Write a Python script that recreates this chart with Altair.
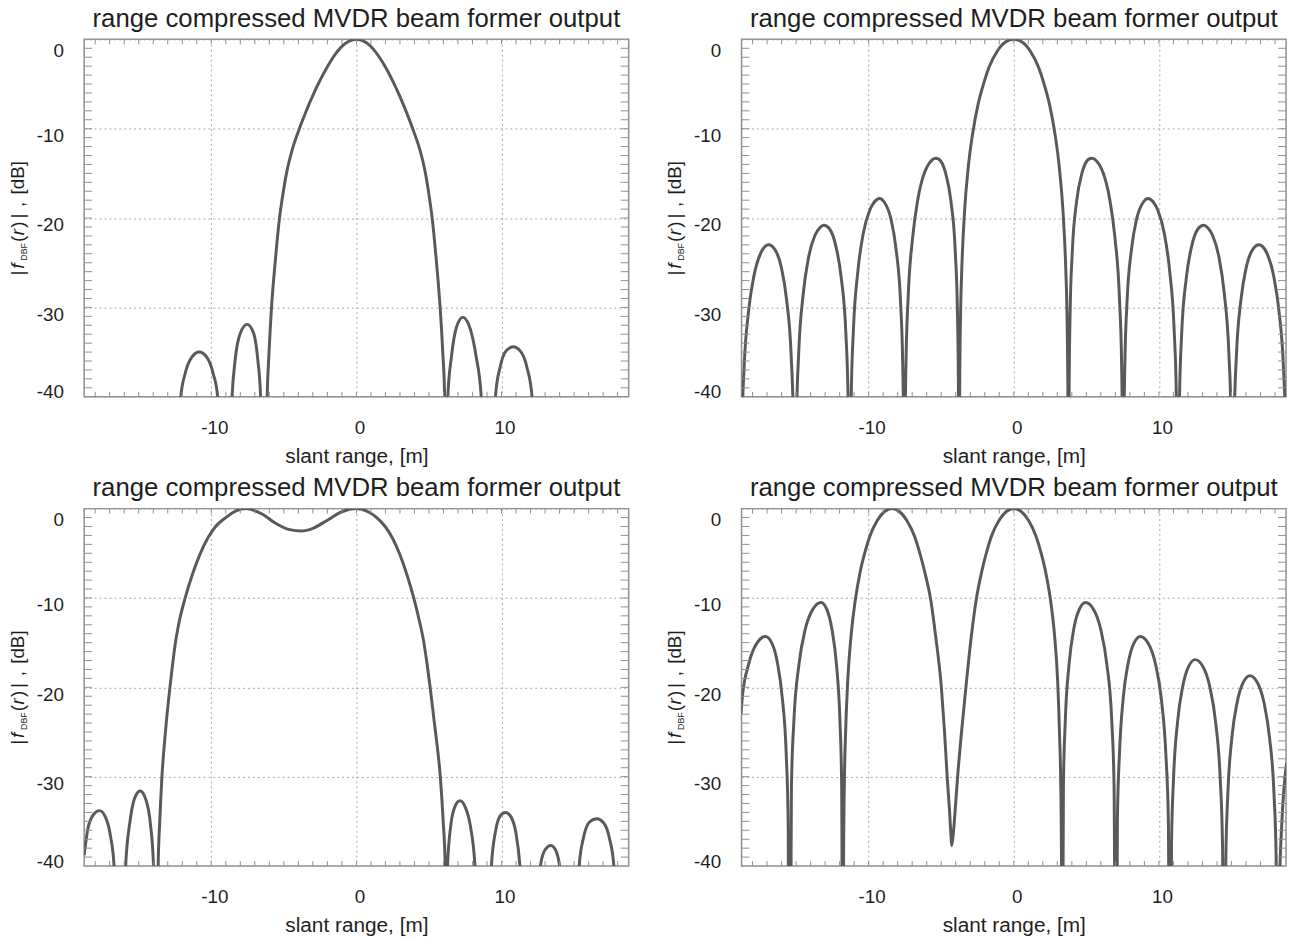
import altair as alt
import pandas as pd

TITLE = "range compressed MVDR beam former output"
X_TITLE = "slant range, [m]"
X_LABELS = [-10, 0, 10]
Y_LABELS = [0, -10, -20, -30, -40]
X_DOMAIN = [-18.76, 18.76]
Y_DOMAIN = [-40, 0]
X_MINOR = list(range(-18, 19))
Y_MINOR = list(range(-39, 0))

# top-left panel
R_TL = [-12.5, -12.1, -11.8, -11.35, -10.83, -10.3, -9.87, -9.56, -9.05,
        -8.57, -8.35, -8.0, -7.53, -7.08, -6.8, -6.6, -6.4,
        -6.15, -6.02, -5.85, -5.6, -5.3, -5.08, -4.82, -4.45, -4.0, -3.5, -3.0, -2.5, -2.0, -1.6, -1.0, -0.5, 0.0,
        0.5, 1.0, 1.58, 2.0, 2.48, 2.97, 3.46, 3.95, 4.4, 4.76, 5.01, 5.22, 5.52, 5.77, 5.95, 6.08, 6.2,
        6.3, 6.55, 6.9, 7.33, 7.8, 8.25, 8.6, 9.1,
        9.58, 9.9, 10.3, 10.8, 11.3, 11.75, 12.1, 12.5]
DB_TL = [-70, -40, -37.4, -35.6, -35.0, -35.6, -37.4, -40, -70,
         -40, -35.8, -32.9, -31.9, -32.9, -35.8, -40, -70,
         -40, -35, -30, -25, -20, -17.5, -15, -12.5, -10.3, -8.18, -6.27, -4.57, -3.06, -2.0, -0.78, -0.2, 0,
         -0.2, -0.8, -2.0, -3.1, -4.6, -6.3, -8.2, -10.3, -12.5, -15, -17.5, -20, -25, -30, -35, -40, -70,
         -40, -35.5, -32.2, -31.1, -32.2, -35.5, -40, -70,
         -40, -36.7, -34.9, -34.4, -34.9, -36.7, -40, -70]

# top-right panel
R_TR = [-18.85, -18.81, -18.74, -18.59, -18.28, -17.91, -17.46, -17.15, -16.89, -16.47, -16.02, -15.65, -15.34, -15.19, -15.12, -15.08,
        -15.04, -14.97, -14.82, -14.51, -14.14, -13.69, -13.38, -13.08, -12.70, -12.25, -11.88, -11.57, -11.42, -11.35, -11.31,
        -11.27, -11.20, -11.05, -10.74, -10.37, -9.92, -9.61, -9.24, -8.93, -8.48, -8.11, -7.80, -7.65, -7.58, -7.54,
        -7.50, -7.43, -7.28, -6.97, -6.60, -6.15, -5.84, -5.39, -5.17, -4.71, -4.34, -4.03, -3.88, -3.81, -3.77,
        -3.73, -3.66, -3.58, -3.39, -3.13, -2.83, -2.45, -2.07, -1.70, -1.13, -0.57, 0.0,
        0.57, 1.13, 1.70, 2.07, 2.45, 2.83, 3.13, 3.39, 3.58, 3.66, 3.73, 3.77,
        3.81, 3.88, 4.03, 4.34, 4.71, 5.17, 5.39, 5.84, 6.15, 6.60, 6.97, 7.28, 7.43, 7.50, 7.54,
        7.58, 7.65, 7.80, 8.11, 8.48, 8.93, 9.24, 9.61, 9.92, 10.37, 10.74, 11.05, 11.20, 11.27, 11.31,
        11.35, 11.42, 11.57, 11.88, 12.25, 12.70, 13.08, 13.38, 13.69, 14.14, 14.51, 14.82, 14.97, 15.04, 15.08,
        15.12, 15.19, 15.34, 15.65, 16.02, 16.47, 16.89, 17.15, 17.46, 17.91, 18.28, 18.59, 18.74, 18.81, 18.85]
DB_TR = [-70, -54.0, -44.4, -37.0, -30.5, -26.5, -24.0, -23.2, -23.0, -23.5, -25.5, -29.2, -35.4, -42.6, -52.1, -70,
         -52.0, -42.5, -35.1, -28.5, -24.4, -21.9, -21.1, -20.8, -21.2, -23.2, -26.8, -32.9, -40.1, -49.6, -70,
         -49.5, -39.9, -32.5, -25.9, -21.7, -19.1, -18.2, -17.8, -18.2, -20.0, -23.5, -29.5, -36.6, -46.1, -70,
         -46.0, -36.4, -28.9, -22.2, -17.8, -14.9, -13.9, -13.3, -13.4, -14.9, -18.0, -23.8, -30.7, -40.1, -70,
         -39.9, -30.2, -25.6, -19.2, -14.2, -10.5, -7.2, -4.9, -3.1, -1.3, -0.3, 0,
         -0.3, -1.3, -3.1, -4.9, -7.2, -10.5, -14.2, -19.2, -25.6, -30.2, -39.9, -70,
         -40.1, -30.7, -23.8, -18.0, -14.9, -13.4, -13.3, -13.9, -14.9, -17.8, -22.2, -28.9, -36.4, -46.0, -70,
         -46.1, -36.6, -29.5, -23.5, -20.0, -18.2, -17.8, -18.2, -19.1, -21.7, -25.9, -32.5, -39.9, -49.5, -70,
         -49.6, -40.1, -32.9, -26.8, -23.2, -21.2, -20.8, -21.1, -21.9, -24.4, -28.5, -35.1, -42.5, -52.0, -70,
         -52.1, -42.6, -35.4, -29.2, -25.5, -23.5, -23.0, -23.2, -24.0, -26.5, -30.5, -37.0, -44.4, -54.0, -70]

# bottom-left panel
R_BL = [-18.76, -18.5, -18.1, -17.7, -17.3, -16.95, -16.7, -16.3,
        -15.9, -15.6, -15.3, -14.9, -14.5, -14.2, -13.98, -13.82,
        -13.66, -13.55, -13.4, -13.16, -12.85, -12.67, -12.47, -12.19, -11.8, -11.29, -10.79, -10.19, -9.7, -9.0, -8.29, -7.59,
        -6.5, -5.6, -4.6, -3.79, -3.0, -2.0, -1.0, 0.0,
        0.8, 1.4, 1.98, 2.5, 3.0, 3.5, 3.95, 4.33, 4.65, 4.88, 5.08, 5.45, 5.78, 5.98, 6.12, 6.2,
        6.28, 6.5, 6.8, 7.13, 7.5, 7.85, 8.17, 8.75,
        9.3, 9.6, 9.9, 10.28, 10.65, 10.98, 11.27, 12.0,
        12.68, 12.9, 13.15, 13.38, 13.6, 13.82, 14.0, 14.7,
        15.35, 15.65, 16.05, 16.56, 17.05, 17.45, 17.74, 18.2]
DB_BL = [-38.8, -35.8, -34.2, -33.8, -34.5, -36.6, -40, -70,
         -40, -35, -32.5, -31.6, -32.6, -35.2, -40, -70,
         -40, -35, -30, -25, -20, -17.5, -15, -12.5, -10, -7.32, -5.15, -3.15, -2, -1, -0.25, 0,
         -0.6, -1.6, -2.35, -2.5, -2.2, -1.3, -0.35, 0,
         -0.35, -1.0, -2, -3.34, -5.16, -7.48, -10, -12.5, -15, -17.5, -20, -25, -30, -35, -40, -70,
         -40, -35.5, -33.3, -32.7, -33.4, -35.5, -40, -70,
         -40, -36, -34.4, -34.0, -34.5, -36.2, -40, -70,
         -40, -38.5, -37.9, -37.7, -37.9, -38.6, -40, -70,
         -40, -36.8, -35.1, -34.7, -35.2, -37.0, -40, -70]

# bottom-right panel
R_BR = [-18.8, -18.71, -18.25, -17.7, -17.1, -16.67, -16.28, -15.95, -15.68, -15.55, -15.45,
        -15.32, -15.15, -14.80, -14.37, -13.84, -13.28, -12.89, -12.53, -12.22, -11.98, -11.86, -11.77,
        -11.73, -11.67, -11.6, -11.44, -11.21, -10.94, -10.6, -10.26, -9.92, -9.41, -8.9, -8.39,
        -7.88, -7.37, -6.84, -6.49, -6.12, -5.71, -5.39, -4.99, -4.77, -4.59, -4.42, -4.33, -4.28,
        -4.18, -4.05, -3.87, -3.6, -3.3, -2.92, -2.6, -2.23, -1.88, -1.54, -1.02, -0.51, 0.0,
        0.51, 1.02, 1.53, 1.87, 2.21, 2.55, 2.81, 3.02, 3.16, 3.23, 3.29, 3.32,
        3.42, 3.55, 3.81, 4.13, 4.52, 4.94, 5.49, 5.99, 6.41, 6.75, 6.91, 7.04,
        7.14, 7.28, 7.54, 7.88, 8.28, 8.72, 9.25, 9.75, 10.16, 10.48, 10.65, 10.77,
        10.87, 11.01, 11.29, 11.64, 12.05, 12.5, 13.02, 13.5, 13.9, 14.22, 14.38, 14.5,
        14.61, 14.75, 15.03, 15.39, 15.81, 16.27, 16.78, 17.24, 17.62, 17.93, 18.08, 18.2,
        18.31, 18.47, 18.8]
DB_BR = [-23.0, -21.2, -17.3, -15.05, -14.3, -15.05, -17.3, -21.2, -27.5, -34.8, -70,
         -31.0, -23.7, -17.4, -13.5, -11.25, -10.5, -11.25, -13.5, -17.4, -23.7, -31.0, -70,
         -39.9, -30.2, -25.6, -19.2, -14.2, -10.45, -7.2, -4.9, -3.1, -1.33, -0.32, 0,
         -0.32, -1.33, -3.1, -4.9, -7.2, -10.3, -14.2, -20, -25, -30, -34, -36.6, -37.7,
         -36.6, -34, -30, -25, -20, -14.2, -10.3, -7.2, -4.9, -3.1, -1.33, -0.32, 0,
         -0.32, -1.33, -3.1, -4.9, -7.2, -10.45, -14.2, -19.2, -25.6, -30.2, -39.9, -70,
         -31.0, -23.7, -17.4, -13.5, -11.25, -10.5, -11.25, -13.5, -17.4, -23.7, -31.0, -70,
         -34.8, -27.5, -21.2, -17.3, -15.05, -14.3, -15.05, -17.3, -21.2, -27.5, -34.8, -70,
         -37.4, -30.1, -23.8, -19.9, -17.65, -16.9, -17.65, -19.9, -23.8, -30.1, -37.4, -70,
         -39.2, -31.9, -25.6, -21.7, -19.45, -18.7, -19.45, -21.7, -25.6, -31.9, -39.2, -70,
         -42.5, -35.2, -28.5]

W, H = 550, 361
FONT = "Liberation Sans"
LINE = "#595959"
FRAME = "#8f8f8f"
GRID = "#a8a8a8"
TXT = "#1e1e1e"

# y-axis title pieces: (text, size, style, baseline shift, advance in em of YT_SIZE)
YT_SIZE = 19
YT_PIECES = [
    ("|", YT_SIZE, "normal", 0, 0.36),
    ("f", YT_SIZE, "italic", 0, 0.42),
    ("DBF", 9, "normal", 3, 1.0),
    ("(", YT_SIZE, "normal", 0, 0.36),
    ("r", YT_SIZE, "italic", 0, 0.40),
    (")", YT_SIZE, "normal", 0, 0.48),
    ("|", YT_SIZE, "normal", 0, 0.62),
    (",", YT_SIZE, "normal", 0, 0.66),
    ("[dB]", YT_SIZE, "normal", 0, 1.8),
]


def ytitle_layers():
    total = sum(p[4] for p in YT_PIECES) * YT_SIZE
    y = H / 2 + total / 2
    xb = -61
    layers = []
    for text, size, style, shift, adv in YT_PIECES:
        layers.append(
            alt.Chart(pd.DataFrame({"t": [text]}))
            .mark_text(angle=270, align="left", baseline="alphabetic", font=FONT,
                       fontSize=size, fontStyle=style, color=TXT)
            .encode(x=alt.value(xb + shift), y=alt.value(y), text="t:N")
        )
        y -= adv * YT_SIZE
    return layers


def panel(r, db):
    xs = alt.Scale(domain=X_DOMAIN, nice=False, zero=False)
    ys = alt.Scale(domain=Y_DOMAIN, nice=False, zero=False)
    x_axis = alt.Axis(values=X_LABELS, labelExpr="'' + datum.value", title=X_TITLE, grid=True,
                      gridColor=GRID, gridDash=[2, 3], gridWidth=1, ticks=False, tickSize=0,
                      domain=False, labelFont=FONT, labelFontSize=19, labelColor=TXT,
                      labelPadding=22, labelFlush=False, labelOffset=3,
                      titleFont=FONT, titleFontSize=21, titleFontWeight="normal",
                      titleColor=TXT, titlePadding=8)
    y_axis = alt.Axis(values=Y_LABELS, labelExpr="'' + datum.value", title=None, grid=True,
                      gridColor=GRID, gridDash=[2, 3], gridWidth=1, ticks=False, tickSize=0,
                      domain=False, labelFont=FONT, labelFontSize=19, labelColor=TXT,
                      labelPadding=21, labelFlush=False, labelBaseline="middle",
                      labelOffset={"condition": [{"test": "datum.value == 0", "value": 11},
                                                 {"test": "datum.value == -40", "value": -5}],
                                   "value": 7})
    line = (alt.Chart(pd.DataFrame({"r": r, "db": db}))
            .mark_line(color=LINE, strokeWidth=3, clip=True, interpolate="monotone")
            .encode(x=alt.X("r:Q", scale=xs, axis=x_axis),
                    y=alt.Y("db:Q", scale=ys, axis=y_axis)))
    tx = pd.DataFrame({"r": X_MINOR})
    ty = pd.DataFrame({"db": Y_MINOR})
    tick = dict(color=FRAME, strokeWidth=1)
    top = alt.Chart(tx).mark_rule(**tick).encode(
        x=alt.X("r:Q", scale=xs, axis=x_axis), y=alt.value(0), y2=alt.value(5))
    bot = alt.Chart(tx).mark_rule(**tick).encode(
        x=alt.X("r:Q", scale=xs, axis=x_axis), y=alt.value(H - 5), y2=alt.value(H))
    left = alt.Chart(ty).mark_rule(**tick).encode(
        y=alt.Y("db:Q", scale=ys, axis=y_axis), x=alt.value(0), x2=alt.value(8))
    right = alt.Chart(ty).mark_rule(**tick).encode(
        y=alt.Y("db:Q", scale=ys, axis=y_axis), x=alt.value(W - 8), x2=alt.value(W))
    return alt.layer(line, top, bot, left, right, *ytitle_layers()).properties(
        width=W, height=H,
        title=alt.TitleParams(TITLE, font=FONT, fontSize=26, fontWeight="normal",
                              color=TXT, anchor="middle", offset=7))


chart = (
    alt.vconcat(
        alt.hconcat(panel(R_TL, DB_TL), panel(R_TR, DB_TR), spacing=35),
        alt.hconcat(panel(R_BL, DB_BL), panel(R_BR, DB_BR), spacing=35),
        spacing=7,
    )
    .properties(padding={"left": 8, "top": 0, "right": 2, "bottom": 2}, background="white")
    .configure_view(stroke=FRAME, strokeWidth=1.5)
)

chart.save("out.html", embed_options={"renderer": "svg", "actions": False})
